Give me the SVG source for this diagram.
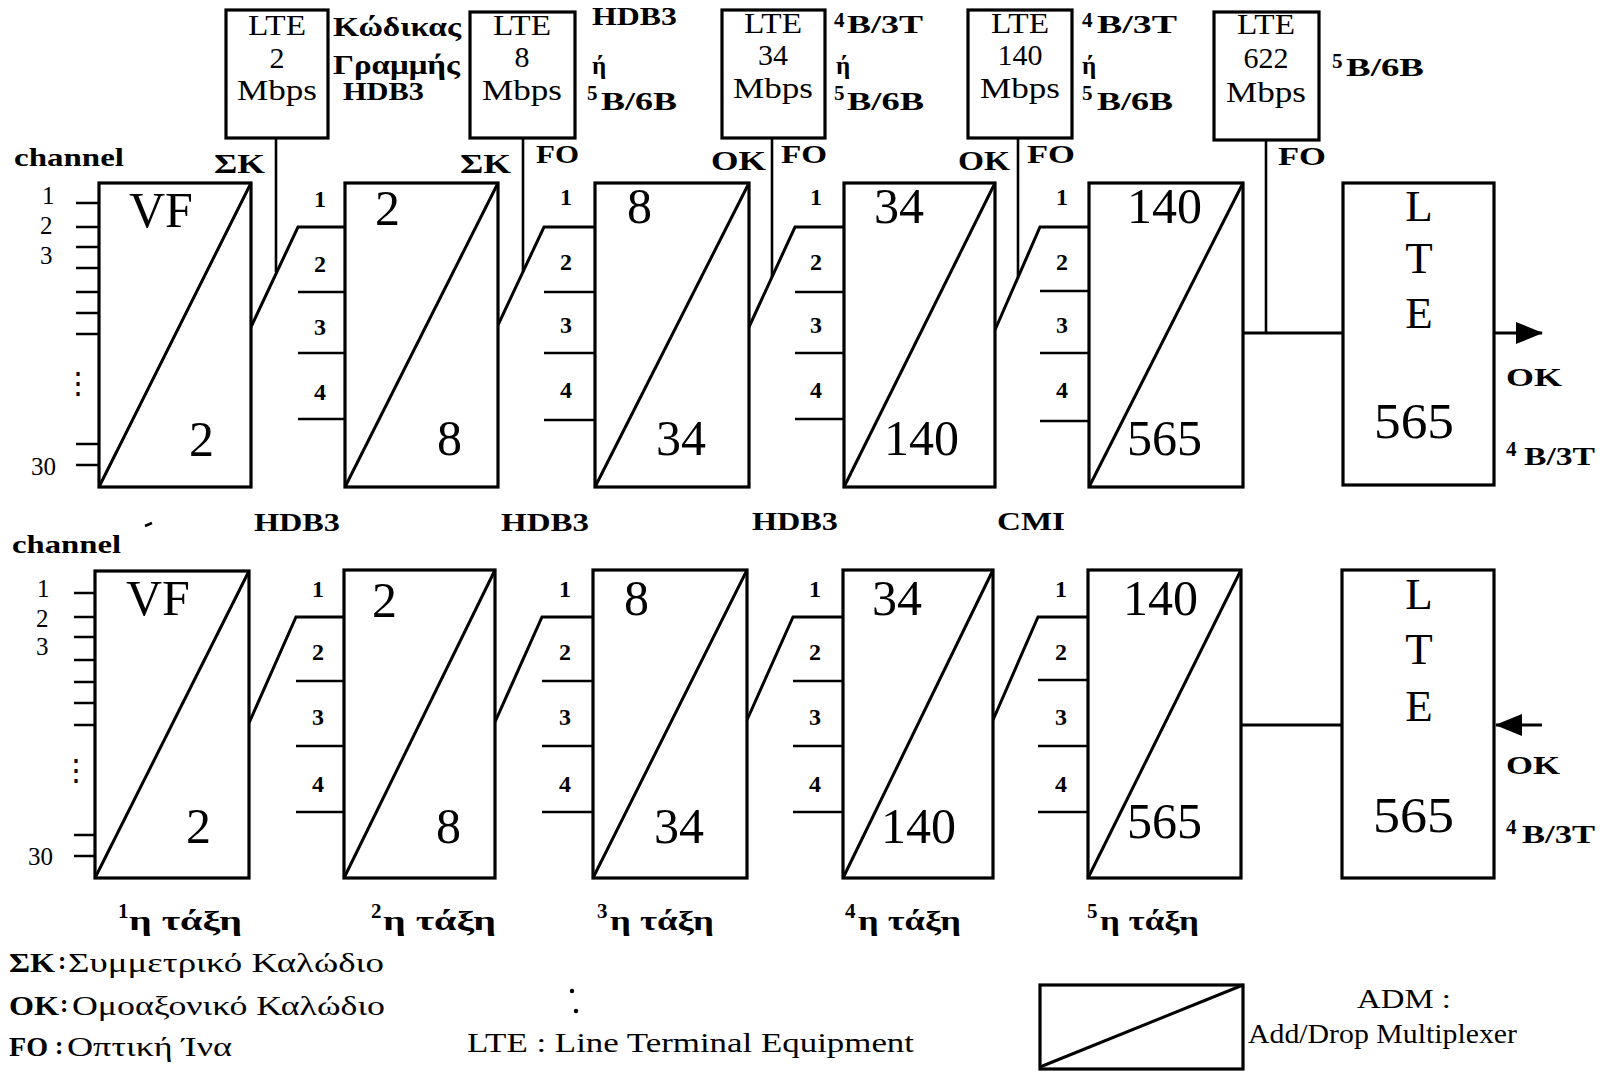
<svg xmlns="http://www.w3.org/2000/svg" width="1609" height="1072" viewBox="0 0 1609 1072">
<style>
text{font-family:"Liberation Serif","DejaVu Serif",serif;fill:#000}
.box{fill:#fff;stroke:#000;stroke-width:3.2}
.d{stroke:#000;stroke-width:3;fill:none}
.ln{stroke:#000;stroke-width:2.6;fill:none}
.cn{stroke:#000;stroke-width:3;fill:none}
.big{font-size:50px}
.lt{font-size:30px;text-anchor:middle}
.L{font-size:45px;text-anchor:middle}
.b{font-weight:bold;font-size:25px}
.p{font-weight:bold;font-size:24px;text-anchor:middle}
.ch{font-size:25px}
.sup{font-weight:bold;font-size:21px}
.st{font-weight:bold;font-size:27px}
.lg{font-size:28px}
</style>
<defs>
<marker id="ah" markerWidth="27" markerHeight="22" refX="26" refY="11" orient="auto" markerUnits="userSpaceOnUse"><path d="M0,0 L27,11 L0,22 Z" fill="#000"/></marker>
</defs>
<rect width="1609" height="1072" fill="#fff"/>

<!-- connectors -->
<g id="connectors">
<polyline class="cn" points="251,327 298,227 345,227"/>
<polyline class="cn" points="498,325 544,227 595,227"/>
<polyline class="cn" points="749,327 795,227 844,227"/>
<polyline class="cn" points="995,330 1040,227 1089,227"/>
<polyline class="cn" points="249,723 296,617 344,617"/>
<polyline class="cn" points="495,722 542,617 593,617"/>
<polyline class="cn" points="747,720 793,617 843,617"/>
<polyline class="cn" points="993,720 1038,617 1088,617"/>
<line class="ln" x1="276" y1="138" x2="276" y2="272"/>
<line class="ln" x1="523" y1="138" x2="523" y2="272"/>
<line class="ln" x1="772" y1="138" x2="772" y2="277"/>
<line class="ln" x1="1018" y1="138" x2="1018" y2="277"/>
<line class="ln" x1="1266" y1="140" x2="1266" y2="333"/>
<line class="cn" x1="1243" y1="333" x2="1343" y2="333"/>
<line class="cn" x1="1241" y1="725" x2="1342" y2="725"/>
<line class="cn" x1="1494" y1="333" x2="1542" y2="333" marker-end="url(#ah)"/>
<line class="cn" x1="1542" y1="725" x2="1496" y2="725" marker-end="url(#ah)"/>
</g>

<!-- ports and channel ticks -->
<g id="ports">
<path class="ln" d="M76,203H99M76,227H99M76,247H99M76,268H99M76,292H99M76,313H99M76,334H99M76,444H99M76,465H99"/>
<path class="ln" d="M74,593H95M74,617H95M74,637H95M74,660H95M74,682H95M74,703H95M74,725H95M74,835H95M74,856H95"/>
<path class="ln" d="M298,292H345M298,353H345M298,419H345M544,292H595M544,353H595M544,420H595M795,292H844M795,353H844M795,419H844M1040,291H1089M1040,353H1089M1040,421H1089"/>
<path class="ln" d="M296,681H344M296,746H344M296,812H344M542,681H593M542,746H593M542,812H593M793,681H843M793,746H843M793,812H843M1038,680H1088M1038,746H1088M1038,812H1088"/>
</g>

<g id="channels-top">
<text class="ch" x="42" y="204">1</text>
<text class="ch" x="40" y="234">2</text>
<text class="ch" x="40" y="264">3</text>
<text class="ch" x="78" y="393" style="font-size:30px;text-anchor:middle">⋮</text>
<text class="ch" x="31" y="475">30</text>
<text class="b" x="14" y="166" textLength="110" lengthAdjust="spacingAndGlyphs">channel</text>
<circle cx="107" cy="268" r="1.8"/>
</g>
<g id="channels-bottom">
<text class="ch" x="37" y="597">1</text>
<text class="ch" x="36" y="627">2</text>
<text class="ch" x="36" y="655">3</text>
<text class="ch" x="76" y="780" style="font-size:30px;text-anchor:middle">⋮</text>
<text class="ch" x="28" y="865">30</text>
<text class="b" x="12" y="553" textLength="109" lengthAdjust="spacingAndGlyphs">channel</text>
<line x1="145" y1="526" x2="152" y2="523" stroke="#000" stroke-width="2.5"/>
</g>

<!-- port labels -->
<g id="port-labels">
<text class="p" x="320" y="207">1</text><text class="p" x="320" y="272">2</text><text class="p" x="320" y="335">3</text><text class="p" x="320" y="400">4</text>
<text class="p" x="566" y="205">1</text><text class="p" x="566" y="270">2</text><text class="p" x="566" y="333">3</text><text class="p" x="566" y="398">4</text>
<text class="p" x="816" y="205">1</text><text class="p" x="816" y="270">2</text><text class="p" x="816" y="333">3</text><text class="p" x="816" y="398">4</text>
<text class="p" x="1062" y="205">1</text><text class="p" x="1062" y="270">2</text><text class="p" x="1062" y="333">3</text><text class="p" x="1062" y="398">4</text>
<text class="p" x="318" y="597">1</text><text class="p" x="318" y="660">2</text><text class="p" x="318" y="725">3</text><text class="p" x="318" y="792">4</text>
<text class="p" x="565" y="597">1</text><text class="p" x="565" y="660">2</text><text class="p" x="565" y="725">3</text><text class="p" x="565" y="792">4</text>
<text class="p" x="815" y="597">1</text><text class="p" x="815" y="660">2</text><text class="p" x="815" y="725">3</text><text class="p" x="815" y="792">4</text>
<text class="p" x="1061" y="597">1</text><text class="p" x="1061" y="660">2</text><text class="p" x="1061" y="725">3</text><text class="p" x="1061" y="792">4</text>
</g>

<!-- top row ADMs -->
<g id="adm1-top"><rect class="box" x="99" y="183" width="152" height="304"/><line class="d" x1="99" y1="487" x2="251" y2="183"/><text class="big" x="129" y="227">VF</text><text class="big" x="189" y="456">2</text></g>
<g id="adm2-top"><rect class="box" x="345" y="183" width="153" height="304"/><line class="d" x1="345" y1="487" x2="498" y2="183"/><text class="big" x="375" y="225">2</text><text class="big" x="437" y="455">8</text></g>
<g id="adm3-top"><rect class="box" x="595" y="183" width="154" height="304"/><line class="d" x1="595" y1="487" x2="749" y2="183"/><text class="big" x="627" y="223">8</text><text class="big" x="656" y="455">34</text></g>
<g id="adm4-top"><rect class="box" x="844" y="183" width="151" height="304"/><line class="d" x1="844" y1="487" x2="995" y2="183"/><text class="big" x="874" y="223">34</text><text class="big" x="884" y="455">140</text></g>
<g id="adm5-top"><rect class="box" x="1089" y="183" width="154" height="304"/><line class="d" x1="1089" y1="487" x2="1243" y2="183"/><text class="big" x="1127" y="223">140</text><text class="big" x="1127" y="455">565</text></g>
<g id="lte565-top"><rect class="box" x="1343" y="183" width="151" height="302"/><text class="L" x="1419" y="221">L</text><text class="L" x="1419" y="273">T</text><text class="L" x="1419" y="328">E</text><text class="big" x="1374" y="438" textLength="80" lengthAdjust="spacingAndGlyphs">565</text></g>

<!-- bottom row ADMs -->
<g id="adm1-bottom"><rect class="box" x="95" y="571" width="154" height="307"/><line class="d" x1="95" y1="878" x2="249" y2="571"/><text class="big" x="126" y="615">VF</text><text class="big" x="186" y="843">2</text></g>
<g id="adm2-bottom"><rect class="box" x="344" y="570" width="151" height="308"/><line class="d" x1="344" y1="878" x2="495" y2="570"/><text class="big" x="372" y="617">2</text><text class="big" x="436" y="843">8</text></g>
<g id="adm3-bottom"><rect class="box" x="593" y="570" width="154" height="308"/><line class="d" x1="593" y1="878" x2="747" y2="570"/><text class="big" x="624" y="615">8</text><text class="big" x="654" y="843">34</text></g>
<g id="adm4-bottom"><rect class="box" x="843" y="570" width="150" height="308"/><line class="d" x1="843" y1="878" x2="993" y2="570"/><text class="big" x="872" y="615">34</text><text class="big" x="881" y="843">140</text></g>
<g id="adm5-bottom"><rect class="box" x="1088" y="570" width="153" height="308"/><line class="d" x1="1088" y1="878" x2="1241" y2="570"/><text class="big" x="1123" y="615">140</text><text class="big" x="1127" y="838">565</text></g>
<g id="lte565-bottom"><rect class="box" x="1342" y="570" width="152" height="308"/><text class="L" x="1419" y="609">L</text><text class="L" x="1419" y="664">T</text><text class="L" x="1419" y="721">E</text><text class="big" x="1373" y="832" textLength="81" lengthAdjust="spacingAndGlyphs">565</text></g>

<!-- tributary LTEs -->
<g id="lte2"><rect class="box" x="226" y="10" width="102" height="128"/><text class="lt" x="277" y="35" textLength="58" lengthAdjust="spacingAndGlyphs">LTE</text><text class="lt" x="277" y="68">2</text><text class="lt" x="277" y="100" textLength="80" lengthAdjust="spacingAndGlyphs">Mbps</text></g>
<g id="lte8"><rect class="box" x="470" y="12" width="105" height="126"/><text class="lt" x="522" y="35" textLength="58" lengthAdjust="spacingAndGlyphs">LTE</text><text class="lt" x="522" y="67">8</text><text class="lt" x="522" y="100" textLength="80" lengthAdjust="spacingAndGlyphs">Mbps</text></g>
<g id="lte34"><rect class="box" x="722" y="10" width="103" height="128"/><text class="lt" x="773" y="33" textLength="58" lengthAdjust="spacingAndGlyphs">LTE</text><text class="lt" x="773" y="65">34</text><text class="lt" x="773" y="98" textLength="80" lengthAdjust="spacingAndGlyphs">Mbps</text></g>
<g id="lte140"><rect class="box" x="968" y="10" width="104" height="128"/><text class="lt" x="1020" y="33" textLength="58" lengthAdjust="spacingAndGlyphs">LTE</text><text class="lt" x="1020" y="65">140</text><text class="lt" x="1020" y="98" textLength="80" lengthAdjust="spacingAndGlyphs">Mbps</text></g>
<g id="lte622"><rect class="box" x="1214" y="12" width="105" height="128"/><text class="lt" x="1266" y="34" textLength="58" lengthAdjust="spacingAndGlyphs">LTE</text><text class="lt" x="1266" y="68">622</text><text class="lt" x="1266" y="102" textLength="80" lengthAdjust="spacingAndGlyphs">Mbps</text></g>

<!-- code / medium labels -->
<g id="codes">
<text class="b" x="333" y="36" style="font-size:28px" textLength="128" lengthAdjust="spacingAndGlyphs">Κώδικας</text>
<text class="b" x="333" y="74" style="font-size:28px" textLength="127" lengthAdjust="spacingAndGlyphs">Γραμμής</text>
<text class="b" x="343" y="100" textLength="81" lengthAdjust="spacingAndGlyphs">HDB3</text>

<text class="b" x="592" y="25" textLength="85" lengthAdjust="spacingAndGlyphs">HDB3</text>
<text class="b" x="592" y="74">ή</text>
<text class="sup" x="587" y="100">5</text><text class="b" x="601" y="110" textLength="76" lengthAdjust="spacingAndGlyphs">B/6B</text>

<text class="sup" x="834" y="27">4</text><text class="b" x="847" y="33" textLength="76" lengthAdjust="spacingAndGlyphs">B/3T</text>
<text class="b" x="836" y="74">ή</text>
<text class="sup" x="834" y="100">5</text><text class="b" x="847" y="110" textLength="77" lengthAdjust="spacingAndGlyphs">B/6B</text>

<text class="sup" x="1082" y="27">4</text><text class="b" x="1097" y="33" textLength="80" lengthAdjust="spacingAndGlyphs">B/3T</text>
<text class="b" x="1082" y="74">ή</text>
<text class="sup" x="1082" y="100">5</text><text class="b" x="1097" y="110" textLength="76" lengthAdjust="spacingAndGlyphs">B/6B</text>

<text class="sup" x="1332" y="68">5</text><text class="b" x="1346" y="76" textLength="78" lengthAdjust="spacingAndGlyphs">B/6B</text>

<text class="b" x="214" y="173" style="font-size:27px" textLength="51" lengthAdjust="spacingAndGlyphs">ΣΚ</text>
<text class="b" x="460" y="173" style="font-size:27px" textLength="51" lengthAdjust="spacingAndGlyphs">ΣΚ</text>
<text class="b" x="536" y="163" textLength="43" lengthAdjust="spacingAndGlyphs">FO</text>
<text class="b" x="711" y="170" style="font-size:27px" textLength="55" lengthAdjust="spacingAndGlyphs">OK</text>
<text class="b" x="781" y="163" textLength="46" lengthAdjust="spacingAndGlyphs">FO</text>
<text class="b" x="958" y="170" style="font-size:27px" textLength="52" lengthAdjust="spacingAndGlyphs">OK</text>
<text class="b" x="1027" y="163" textLength="48" lengthAdjust="spacingAndGlyphs">FO</text>
<text class="b" x="1278" y="165" textLength="48" lengthAdjust="spacingAndGlyphs">FO</text>

<text class="b" x="1506" y="386" textLength="56" lengthAdjust="spacingAndGlyphs">OK</text>
<text class="sup" x="1506" y="456">4</text><text class="b" x="1524" y="465" textLength="71" lengthAdjust="spacingAndGlyphs">B/3T</text>
<text class="b" x="1506" y="774" textLength="54" lengthAdjust="spacingAndGlyphs">OK</text>
<text class="sup" x="1506" y="834">4</text><text class="b" x="1522" y="843" textLength="73" lengthAdjust="spacingAndGlyphs">B/3T</text>

<text class="b" x="254" y="531" textLength="86" lengthAdjust="spacingAndGlyphs">HDB3</text>
<text class="b" x="501" y="531" textLength="88" lengthAdjust="spacingAndGlyphs">HDB3</text>
<text class="b" x="752" y="530" textLength="86" lengthAdjust="spacingAndGlyphs">HDB3</text>
<text class="b" x="997" y="530" textLength="68" lengthAdjust="spacingAndGlyphs">CMI</text>
</g>

<!-- stage labels -->
<g id="stages">
<text class="sup" x="118" y="918">1</text><text class="st" x="129" y="930" textLength="113" lengthAdjust="spacingAndGlyphs">η τάξη</text>
<text class="sup" x="371" y="918">2</text><text class="st" x="383" y="930" textLength="113" lengthAdjust="spacingAndGlyphs">η τάξη</text>
<text class="sup" x="597" y="918">3</text><text class="st" x="610" y="930" textLength="104" lengthAdjust="spacingAndGlyphs">η τάξη</text>
<text class="sup" x="845" y="918">4</text><text class="st" x="858" y="930" textLength="103" lengthAdjust="spacingAndGlyphs">η τάξη</text>
<text class="sup" x="1087" y="918">5</text><text class="st" x="1100" y="930" textLength="99" lengthAdjust="spacingAndGlyphs">η τάξη</text>
</g>

<!-- legend -->
<g id="legend">
<text class="b" x="9" y="972" style="font-size:27px" textLength="46" lengthAdjust="spacingAndGlyphs">ΣΚ</text><text class="b" x="58" y="969">:</text>
<text class="lg" x="68" y="972" textLength="316" lengthAdjust="spacingAndGlyphs">Συμμετρικό Καλώδιο</text>
<text class="b" x="9" y="1015" style="font-size:27px" textLength="50" lengthAdjust="spacingAndGlyphs">OK</text><text class="b" x="60" y="1012">:</text>
<text class="lg" x="72" y="1015" textLength="313" lengthAdjust="spacingAndGlyphs">Ομοαξονικό Καλώδιο</text>
<text class="b" x="9" y="1056" style="font-size:27px" textLength="39" lengthAdjust="spacingAndGlyphs">FO</text><text class="b" x="55" y="1054">:</text>
<text class="lg" x="67" y="1056" textLength="165" lengthAdjust="spacingAndGlyphs">Οπτική Ίνα</text>
<text class="lg" x="467" y="1052" textLength="447" lengthAdjust="spacingAndGlyphs">LTE : Line Terminal Equipment</text>
<circle cx="572" cy="991" r="2.2"/><circle cx="576" cy="1011" r="2.2"/>
</g>
<g id="adm-legend">
<rect class="box" x="1040" y="985" width="203" height="84"/>
<line class="d" x1="1040" y1="1067" x2="1243" y2="985"/>
<text class="lg" x="1357" y="1008" textLength="94" lengthAdjust="spacingAndGlyphs">ADM :</text>
<text class="lg" x="1248" y="1043" textLength="269" lengthAdjust="spacingAndGlyphs">Add/Drop Multiplexer</text>
</g>
</svg>
